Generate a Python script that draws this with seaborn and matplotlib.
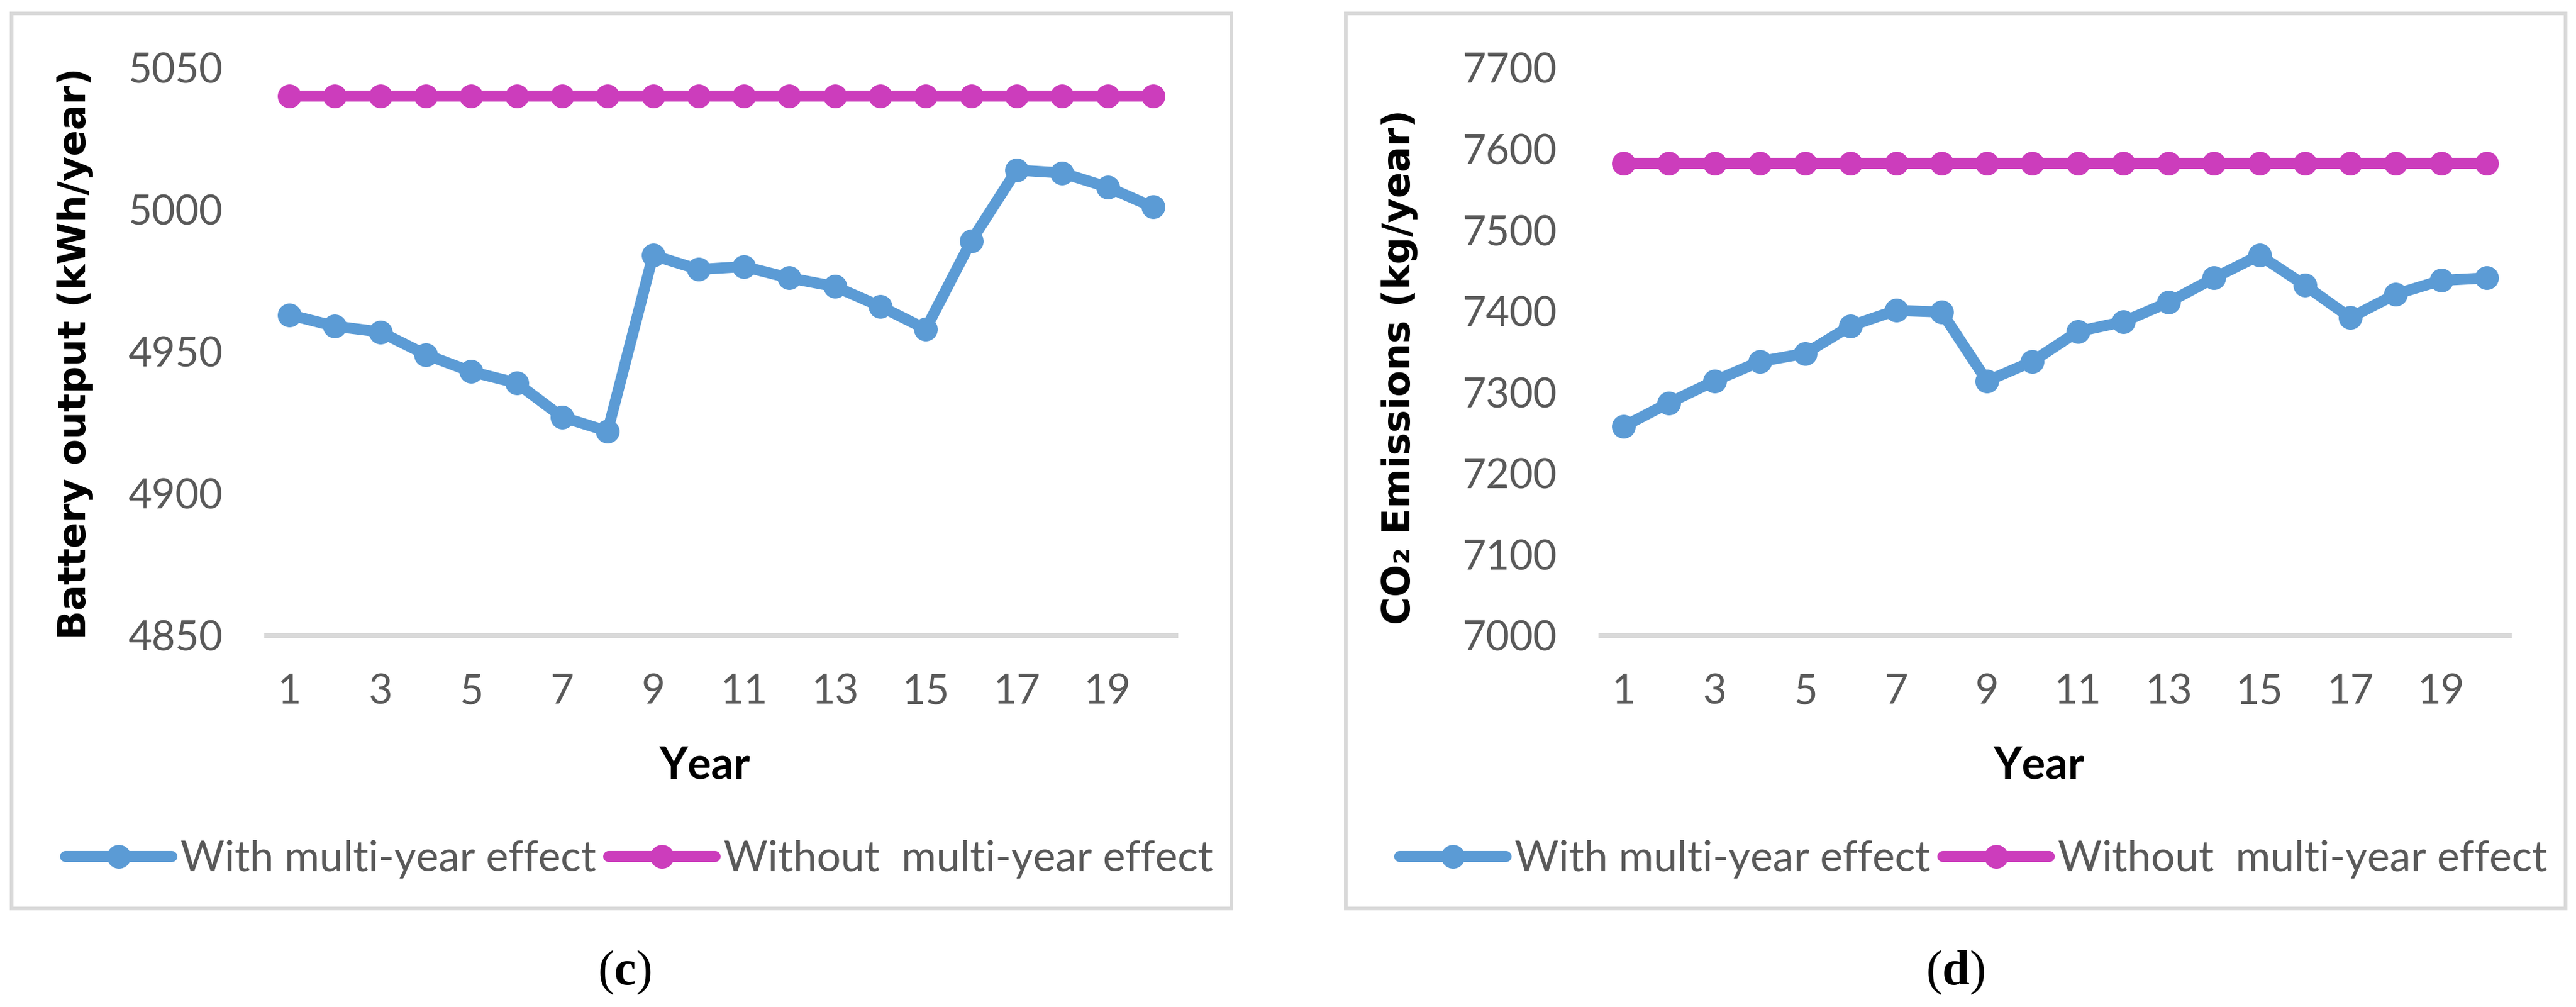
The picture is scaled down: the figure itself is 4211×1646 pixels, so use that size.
import pandas as pd
import matplotlib
matplotlib.use("Agg")
import matplotlib.pyplot as plt
import matplotlib.patches as patches
import seaborn as sns

years = list(range(1, 21))

# (c) battery output, kWh/year
battery_with = [4963, 4959, 4957, 4949, 4943, 4939, 4927, 4922, 4984, 4979,
                4980, 4976, 4973, 4966, 4958, 4989, 5014, 5013, 5008, 5001]
battery_without = [5040] * 20

# (d) CO2 emissions, kg/year
co2_with = [7258, 7287, 7314, 7338, 7348, 7382, 7401, 7399, 7314, 7338,
            7375, 7387, 7411, 7441, 7469, 7432, 7392, 7421, 7438, 7441]
co2_without = [7582] * 20

series_names = ["With multi-year effect", "Without  multi-year effect"]
BLUE = "#5B9BD5"
MAGENTA = "#CC3DBC"
GRID = "#D9D9D9"
TICK = "#595959"

sns.set_theme(style="white")
plt.rcParams["font.family"] = ["Lato", "DejaVu Sans"]
plt.rcParams["mathtext.fontset"] = "custom"
plt.rcParams["mathtext.rm"] = "Liberation Serif"
plt.rcParams["mathtext.bf"] = "Liberation Serif:bold"

W, H = 4211, 1646
fig = plt.figure(figsize=(W / 100, H / 100), dpi=100)


def px(x0, y0, x1, y1):
    # pixel box -> figure fraction rect
    return [x0 / W, 1 - y1 / H, (x1 - x0) / W, (y1 - y0) / H]


panels = [
    dict(rect=px(436, 111, 1922, 1039), frame=(19, 22, 2013, 1485),
         ylim=(4850, 5050), yticks=[4850, 4900, 4950, 5000, 5050],
         with_=battery_with, without=battery_without,
         ylabel="Battery output (kWh/year)", ylab_xy=(-0.2106, 0.497),
         legx=1045, cap="c", capx=1021),
    dict(rect=px(2617, 111, 4102, 1039), frame=(2200, 22, 4194, 1485),
         ylim=(7000, 7700), yticks=list(range(7000, 7701, 100)),
         with_=co2_with, without=co2_without,
         ylabel="CO\u2082 Emissions (kg/year)", ylab_xy=(-0.2215, 0.473),
         legx=3226, cap="d", capx=3196),
]

lw = 13
ms = 28

for p in panels:
    fx0, fy0, fx1, fy1 = p["frame"]
    fig.patches.append(patches.Rectangle(
        (fx0 / W, 1 - fy1 / H), (fx1 - fx0) / W, (fy1 - fy0) / H,
        transform=fig.transFigure, fill=False, edgecolor=GRID, linewidth=4.3))

    ax = fig.add_axes(p["rect"])
    df = pd.DataFrame({"Year": years, "with": p["with_"], "without": p["without"]})
    sns.lineplot(data=df, x="Year", y="with", ax=ax, color=BLUE, linewidth=lw,
                 marker="o", markersize=ms, markeredgewidth=0,
                 label=series_names[0], legend=False)
    sns.lineplot(data=df, x="Year", y="without", ax=ax, color=MAGENTA, linewidth=lw,
                 marker="o", markersize=ms, markeredgewidth=0,
                 label=series_names[1], legend=False)

    ax.set_xlim(0.5, 20.5)
    ax.set_ylim(*p["ylim"])
    ax.set_yticks(p["yticks"])
    ax.set_xticks(years[::2])
    ax.tick_params(axis="both", length=0, labelsize=48, labelcolor=TICK)
    ax.tick_params(axis="y", pad=52)
    ax.tick_params(axis="x", pad=44)
    for s in ["top", "right", "left"]:
        ax.spines[s].set_visible(False)
    ax.spines["bottom"].set_color(GRID)
    ax.spines["bottom"].set_linewidth(5.8)
    ax.spines["bottom"].set_zorder(0)
    for line in ax.lines:
        line.set_clip_on(False)

    ax.set_ylabel(p["ylabel"], fontsize=45, fontweight="bold", color="black",
                  family=["DejaVu Sans"])
    ax.yaxis.set_label_coords(*p["ylab_xy"])
    ax.yaxis.label.set_va("center")
    ax.set_xlabel("Year", fontsize=52, fontweight="bold", color="black")
    ax.xaxis.set_label_coords(0.482, -0.2295)
    ax.xaxis.label.set_va("center")

    handles, labels = ax.get_legend_handles_labels()
    ax.legend(handles, labels, loc="center", bbox_to_anchor=(p["legx"] / W, 1 - 1405 / H),
              bbox_transform=fig.transFigure, ncol=2, frameon=False, fontsize=50,
              handlelength=2.5, handletextpad=0.2, columnspacing=0.3,
              labelcolor=TICK, borderaxespad=0, borderpad=0)

    fig.text(p["capx"] / W, 1 - 1590 / H, r"$\mathrm{(}\mathbf{%s}\mathrm{)}$" % p["cap"],
             fontsize=58, ha="center", va="center", color="black")

fig.savefig("out.png", dpi=100, facecolor="white")
